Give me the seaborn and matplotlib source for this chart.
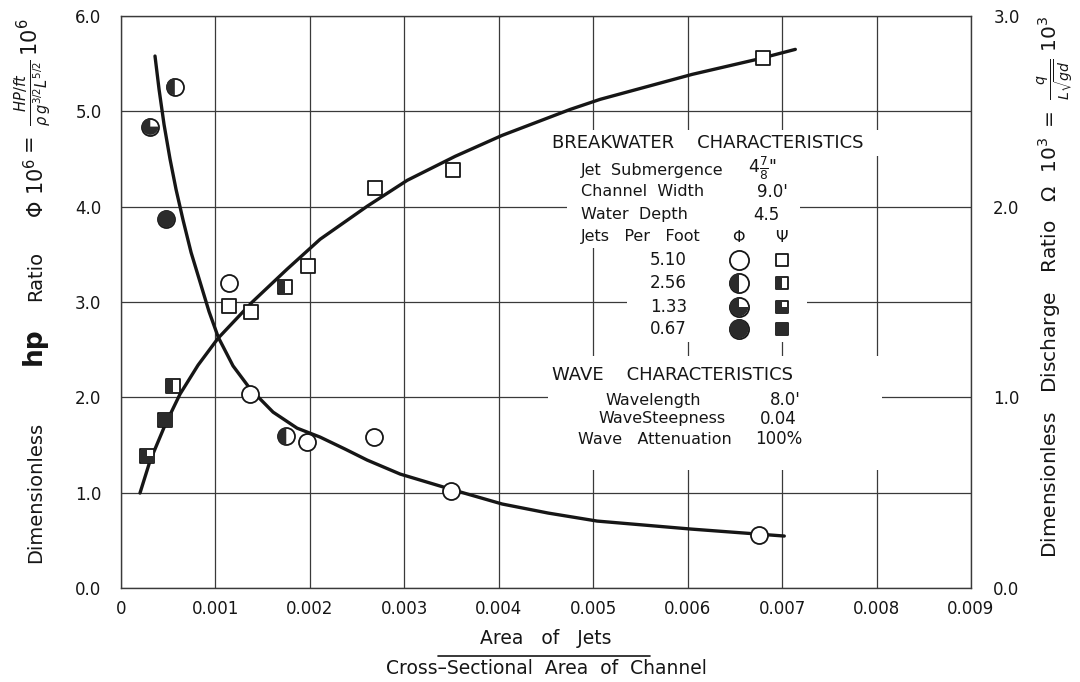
import numpy as np
import pandas as pd
import matplotlib
matplotlib.use("Agg")
import matplotlib.pyplot as plt
from matplotlib.path import Path
from matplotlib.patches import Rectangle
from matplotlib.lines import Line2D
import seaborn as sns

# ------------------------------------------------------------------ data
x_ticks = [0, 0.001, 0.002, 0.003, 0.004, 0.005, 0.006, 0.007, 0.008, 0.009]
x_tick_labels = ["0", "0.001", "0.002", "0.003", "0.004", "0.005",
                 "0.006", "0.007", "0.008", "0.009"]
phi_ticks = [0, 1, 2, 3, 4, 5, 6]
phi_tick_labels = ["0.0", "1.0", "2.0", "3.0", "4.0", "5.0", "6.0"]
psi_ticks = [0, 1, 2, 3]
psi_tick_labels = ["0.0", "1.0", "2.0", "3.0"]

jets_per_foot = ["5.10", "2.56", "1.33", "0.67"]

# Phi (hp ratio) measured points, left axis
phi_x = [0.00114, 0.00137, 0.00197, 0.00268, 0.00349, 0.00675,
         0.00057, 0.00175,
         0.00031,
         0.00048]
phi_y = [3.20, 2.03, 1.53, 1.58, 1.02, 0.56,
         5.26, 1.59,
         4.84,
         3.87]
phi_jets = ["5.10"] * 6 + ["2.56"] * 2 + ["1.33"] + ["0.67"]

# Psi (discharge ratio) measured points, right axis
psi_x = [0.00114, 0.00138, 0.00198, 0.00269, 0.00352, 0.00680,
         0.00055, 0.00174,
         0.00028,
         0.00047]
psi_y = [1.48, 1.45, 1.69, 2.10, 2.19, 2.78,
         1.06, 1.58,
         0.69,
         0.88]
psi_jets = ["5.10"] * 6 + ["2.56"] * 2 + ["1.33"] + ["0.67"]

# faired curves
phi_curve_x = [0.000360, 0.000403, 0.000456, 0.000519, 0.000583, 0.000657,
               0.000742, 0.000837, 0.000932, 0.00103, 0.001186, 0.001367,
               0.001610, 0.001864, 0.002108, 0.002373, 0.002606, 0.002956,
               0.003485, 0.004036, 0.004523, 0.005042, 0.006038, 0.007023]
phi_curve_y = [5.58, 5.23, 4.86, 4.50, 4.18, 3.86,
               3.52, 3.21, 2.90, 2.63, 2.33, 2.09,
               1.845, 1.677, 1.583, 1.457, 1.342, 1.195,
               1.038, 0.881, 0.786, 0.702, 0.618, 0.545]
psi_curve_x = [0.000201, 0.000307, 0.000466, 0.000625, 0.000816, 0.001028,
               0.001388, 0.001758, 0.002108, 0.002606, 0.003030, 0.003538,
               0.004036, 0.004756, 0.005074, 0.006049, 0.006737, 0.007140]
psi_curve_y = [0.498, 0.666, 0.854, 1.017, 1.169, 1.310,
               1.499, 1.672, 1.829, 2.002, 2.138, 2.264,
               2.374, 2.510, 2.563, 2.694, 2.773, 2.825]

phi_df = pd.DataFrame({"x": phi_x, "y": phi_y, "jets": phi_jets})
psi_df = pd.DataFrame({"x": psi_x, "y": psi_y, "jets": psi_jets})

# ------------------------------------------------------------------ style
sns.set_style("white")
plt.rcParams["font.family"] = ["DejaVu Sans"]
plt.rcParams["mathtext.fontset"] = "dejavusans"

INK = "#161616"
FILL = "#2b2b2b"
GRID = "#3a3a3a"

circle = Path.unit_circle()
circ_fill = {"5.10": None, "2.56": Path.wedge(90, 270),
             "1.33": Path.wedge(90, 360), "0.67": Path.unit_circle()}
square = Path([(-1, -1), (1, -1), (1, 1), (-1, 1), (-1, -1)], closed=True)
sq_fill = {"5.10": None,
           "2.56": Path([(-1, -1), (0, -1), (0, 1), (-1, 1), (-1, -1)], closed=True),
           "1.33": Path([(-1, -1), (1, -1), (1, 0), (0, 0), (0, 1), (-1, 1), (-1, -1)],
                        closed=True),
           "0.67": square}

fig = plt.figure(figsize=(10.8, 6.82), dpi=100)
L, R, T, B = 121, 971, 16, 588
ax = fig.add_axes([L / 1080, 1 - B / 682, (R - L) / 1080, (B - T) / 682])
ax2 = ax.twinx()

ax.set_xlim(0, 0.009)
ax.set_ylim(0, 6)
ax2.set_ylim(0, 3)
ax.set_xticks(x_ticks)
ax.set_xticklabels(x_tick_labels)
ax.set_yticks(phi_ticks)
ax.set_yticklabels(phi_tick_labels)
ax2.set_yticks(psi_ticks)
ax2.set_yticklabels(psi_tick_labels)
ax.tick_params(axis="x", length=0, pad=9, labelsize=12, colors=INK)
ax.tick_params(axis="y", length=0, pad=14, labelsize=12, colors=INK)
ax2.tick_params(axis="y", length=0, pad=16, labelsize=12, colors=INK)
ax.grid(True, color=GRID, linewidth=0.9)
for sp in ax.spines.values():
    sp.set_color(GRID)
    sp.set_linewidth(1.0)
for sp in ax2.spines.values():
    sp.set_visible(False)

# curves
sns.lineplot(x=phi_curve_x, y=phi_curve_y, ax=ax, sort=False, estimator=None,
             color=INK, linewidth=2.4, zorder=3)
sns.lineplot(x=psi_curve_x, y=psi_curve_y, ax=ax2, sort=False, estimator=None,
             color=INK, linewidth=2.4, zorder=3)

# markers
S_CIRC = 150
S_SQ = 95
sns.scatterplot(data=phi_df, x="x", y="y", ax=ax, marker=circle, s=S_CIRC,
                color="white", edgecolor=INK, linewidth=1.3, zorder=5, legend=False)
for j in jets_per_foot:
    if circ_fill[j] is None:
        continue
    sub = phi_df[phi_df["jets"] == j]
    sns.scatterplot(data=sub, x="x", y="y", ax=ax, marker=circ_fill[j], s=S_CIRC,
                    color=FILL, edgecolor="none", linewidth=0, zorder=6, legend=False)
sns.scatterplot(data=psi_df, x="x", y="y", ax=ax2, marker=square, s=S_SQ,
                color="white", edgecolor=INK, linewidth=1.3, zorder=5, legend=False)
for j in jets_per_foot:
    if sq_fill[j] is None:
        continue
    sub = psi_df[psi_df["jets"] == j]
    sns.scatterplot(data=sub, x="x", y="y", ax=ax2, marker=sq_fill[j], s=S_SQ,
                    color=FILL, edgecolor="none", linewidth=0, zorder=6, legend=False)
ax.set_xlabel("")
ax.set_ylabel("")
ax2.set_ylabel("")


def px(xp, yp):
    return (xp - L) / (R - L), (B - yp) / (B - T)


# white patches where the grid is broken by the lettering
for x0, y0, x1, y1 in [(548, 130, 882, 156), (567, 156, 800, 248),
                       (627, 248, 807, 342), (548, 356, 882, 470)]:
    ax0, ay1 = px(x0, y0)
    ax1_, ay0 = px(x1, y1)
    ax2.add_patch(Rectangle((ax0, ay0), ax1_ - ax0, ay1 - ay0, transform=ax2.transAxes,
                            facecolor="white", edgecolor="none", zorder=7))

TXT = dict(transform=ax2.transAxes, color=INK, zorder=9, va="center")


def put(xp, yp, s, size=11.5, ha="left", **kw):
    xx, yy = px(xp, yp)
    ax2.text(xx, yy, s, fontsize=size, ha=ha, **TXT, **kw)


put(552, 143, "BREAKWATER    CHARACTERISTICS", 13)
put(581, 170, "Jet  Submergence")
put(748, 168, r'$4\frac{7}{8}$"', 12.5)
put(581, 192, "Channel  Width")
put(757, 192, "9.0'", 12)
put(581, 215, "Water  Depth")
put(753, 215, "4.5", 12)
put(581, 237, "Jets   Per   Foot")
put(739, 237, r"$\Phi$", 11.5, ha="center")
put(782, 237, r"$\Psi$", 11.5, ha="center")
row_y = [260, 283, 307, 329]
for j, yp in zip(jets_per_foot, row_y):
    put(650, yp, j, 12)
    cx, cy = px(739, yp)
    ax2.scatter([cx], [cy], transform=ax2.transAxes, marker=circle, s=190,
                facecolor="white", edgecolor=INK, linewidth=1.3, zorder=10)
    if circ_fill[j] is not None:
        ax2.scatter([cx], [cy], transform=ax2.transAxes, marker=circ_fill[j], s=190,
                    facecolor=FILL, edgecolor="none", zorder=11)
    sx, sy = px(782, yp)
    ax2.scatter([sx], [sy], transform=ax2.transAxes, marker=square, s=70,
                facecolor="white", edgecolor=INK, linewidth=1.3, zorder=10)
    if sq_fill[j] is not None:
        ax2.scatter([sx], [sy], transform=ax2.transAxes, marker=sq_fill[j], s=70,
                    facecolor=FILL, edgecolor="none", zorder=11)

put(552, 375, "WAVE    CHARACTERISTICS", 13)
put(605, 400, "Wavelength")
put(770, 400, "8.0'", 12)
put(598, 419, "WaveSteepness")
put(760, 419, "0.04", 12)
put(578, 439, "Wave   Attenuation")
put(755, 439, "100%", 12)

# axis titles
fig.text(546 / 1080, 1 - 638 / 682, "Area   of   Jets", fontsize=13.5,
         ha="center", va="center", color=INK)
fig.add_artist(Line2D([438 / 1080, 650 / 1080], [1 - 656 / 682, 1 - 656 / 682],
                      color=INK, linewidth=1.2))
fig.text(546 / 1080, 1 - 669 / 682, "Cross\u2013Sectional  Area  of  Channel",
         fontsize=13.5, ha="center", va="center", color=INK)


def vtext(xp, yp, s, size, **kw):
    fig.text(xp / 1080, 1 - yp / 682, s, rotation=90, fontsize=size,
             ha="center", va="center", color=INK, **kw)


vtext(36, 492, "Dimensionless", 14)
vtext(34, 346, "hp", 19, fontweight="bold")
vtext(36, 276, "Ratio", 14)
vtext(36, 188, r"$\Phi\ 10^6$", 15)
vtext(33, 88, r"$=\ \frac{HP/ft}{\rho\, g^{3/2} L^{5/2}}\,10^6$", 15)

fig.text(1055 / 1080, 1 - 287 / 682,
         r"Dimensionless   Discharge   Ratio   $\Omega\ \ 10^3\ =\ \frac{q}{L\sqrt{gd}}\ 10^3$",
         rotation=90, fontsize=14.5, ha="center", va="center", color=INK)

fig.savefig("out.png", dpi=100)
